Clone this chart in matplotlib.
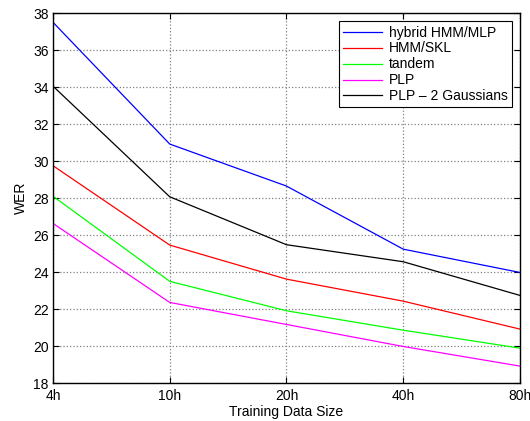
import matplotlib
matplotlib.use("Agg")
import matplotlib.pyplot as plt

# training data sizes (categorical x axis)
sizes = ["4h", "10h", "20h", "40h", "80h"]

hybrid = [37.5, 30.92, 28.65, 25.24, 23.98]
hmm_skl = [29.75, 25.46, 23.62, 22.43, 20.92]
tandem = [28.1, 23.5, 21.91, 20.86, 19.89]
plp = [26.63, 22.36, 21.17, 19.98, 18.92]
plp_2g = [34.05, 28.07, 25.48, 24.56, 22.74]

plt.rcParams['font.family'] = ['Liberation Sans', 'DejaVu Sans']

fig = plt.figure(figsize=(5.3, 4.21), dpi=100)
ax = fig.add_axes([0.1, 0.09, 0.881, 0.879])

x = range(len(sizes))
ax.plot(x, hybrid, color='#0000ff', lw=0.9, label='hybrid HMM/MLP')
ax.plot(x, hmm_skl, color='#ff0000', lw=0.9, label='HMM/SKL')
ax.plot(x, tandem, color='#00ff00', lw=0.9, label='tandem')
ax.plot(x, plp, color='#ff00ff', lw=0.9, label='PLP')
ax.plot(x, plp_2g, color='#000000', lw=0.9, label='PLP \u2013 2 Gaussians')

ax.set_xlim(0, 4)
ax.set_ylim(18, 38)
ax.set_xticks(list(x))
ax.set_xticklabels(sizes)
ax.set_yticks(range(18, 39, 2))
ax.tick_params(direction='in', top=True, right=True, labelsize=10, length=4)
ax.tick_params(axis='x', pad=4)
ax.tick_params(axis='y', pad=3)
ax.grid(True, linestyle=':', color='#808080', lw=0.9)
for s in ax.spines.values():
    s.set_linewidth(1.0)

ax.set_xlabel('Training Data Size', fontsize=10, labelpad=2)
ax.set_ylabel('WER', fontsize=10, labelpad=4)

leg = ax.legend(loc='upper right', fontsize=10, fancybox=False, framealpha=1,
                edgecolor='black', borderpad=0.3, labelspacing=0.14,
                handlelength=2.8, handletextpad=0.5, borderaxespad=0.6)
leg.get_frame().set_linewidth(0.8)

fig.savefig('out.png', dpi=100)
